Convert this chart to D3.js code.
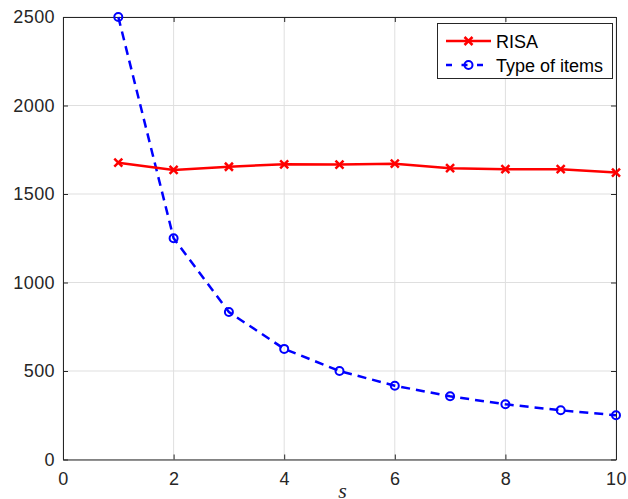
<!DOCTYPE html>
<html><head><meta charset="utf-8">
<script src="https://cdn.jsdelivr.net/npm/d3@7"></script>
<style>body{margin:0;background:#fff;}svg{display:block;font-family:"Liberation Sans",Arial,sans-serif;}</style>
</head><body>
<script>
const sValues = [1,2,3,4,5,6,7,8,9,10];
const risa = [1677,1636,1654,1668,1666,1671,1646,1640,1640,1621];
const typeOfItems = [2500,1250,833,625,500,417,357,312,278,250];
const xTicks = [0,2,4,6,8,10];
const yTicks = [0,500,1000,1500,2000,2500];
const seriesNames = ["RISA","Type of items"];

const W=628,H=499;
const L=63,R=616,T=17,B=459.5;
const svg=d3.select("body").append("svg").attr("width",W).attr("height",H);
const x=d3.scaleLinear().domain([0,10]).range([L,R]);
const y=d3.scaleLinear().domain([0,2500]).range([B,T]);

// grid
svg.append("g").selectAll("line.gx").data(xTicks).join("line")
 .attr("x1",d=>x(d)).attr("x2",d=>x(d)).attr("y1",T).attr("y2",B)
 .attr("stroke","#dfdfdf").attr("stroke-width",1);
svg.append("g").selectAll("line.gy").data(yTicks).join("line")
 .attr("x1",L).attr("x2",R).attr("y1",d=>y(d)).attr("y2",d=>y(d))
 .attr("stroke","#dfdfdf").attr("stroke-width",1);

// axes
const fmt=d3.format("d");
const ax=svg.append("g").attr("transform",`translate(0,${B})`).call(d3.axisBottom(x).tickValues(xTicks).tickFormat(fmt).tickSizeInner(-5).tickSizeOuter(0).tickPadding(13));
const ay=svg.append("g").attr("transform",`translate(${L},0)`).call(d3.axisLeft(y).tickValues(yTicks).tickFormat(fmt).tickSizeInner(-5).tickSizeOuter(0).tickPadding(8));
const axT=svg.append("g").attr("transform",`translate(0,${T})`).call(d3.axisTop(x).tickValues(xTicks).tickSizeInner(-5).tickSizeOuter(0).tickFormat(""));
const ayR=svg.append("g").attr("transform",`translate(${R},0)`).call(d3.axisRight(y).tickValues(yTicks).tickSizeInner(-5).tickSizeOuter(0).tickFormat(""));
[ax,ay,axT,ayR].forEach(g=>{
  g.select(".domain").attr("stroke","#262626").attr("stroke-width",1);
  g.selectAll(".tick line").attr("stroke","#262626");
  g.selectAll(".tick text").attr("fill","#262626").style("font-size","18px").style("letter-spacing","0.4px").style("font-family","'Liberation Sans',Arial,sans-serif");
});

// lines
const line=d3.line().x((d,i)=>x(sValues[i])).y(d=>y(d));
svg.append("path").datum(typeOfItems).attr("d",line).attr("fill","none")
 .attr("stroke","#0000ff").attr("stroke-width",2.5).attr("stroke-dasharray","9,6");
svg.append("path").datum(risa).attr("d",line).attr("fill","none")
 .attr("stroke","#ff0000").attr("stroke-width",2.5);

svg.append("g").selectAll("circle").data(typeOfItems).join("circle")
 .attr("cx",(d,i)=>x(sValues[i])).attr("cy",d=>y(d)).attr("r",4)
 .attr("fill","none").attr("stroke","#0000ff").attr("stroke-width",2);
const xs=4;
const mk=svg.append("g").selectAll("g").data(risa).join("g")
 .attr("transform",(d,i)=>`translate(${x(sValues[i])},${y(d)})`);
mk.append("path").attr("d",`M${-xs},${-xs}L${xs},${xs}M${-xs},${xs}L${xs},${-xs}`)
 .attr("stroke","#ff0000").attr("stroke-width",2.5);

// legend
const lg=svg.append("g");
lg.append("rect").attr("x",437.5).attr("y",23.5).attr("width",175).attr("height",55)
 .attr("fill","#fff").attr("stroke","#262626").attr("stroke-width",1);
const ly=[41,65];
lg.append("line").attr("x1",446).attr("x2",491).attr("y1",ly[0]).attr("y2",ly[0]).attr("stroke","#ff0000").attr("stroke-width",2.5);
lg.append("path").attr("d",`M${468.5-xs},${ly[0]-xs}L${468.5+xs},${ly[0]+xs}M${468.5-xs},${ly[0]+xs}L${468.5+xs},${ly[0]-xs}`).attr("stroke","#ff0000").attr("stroke-width",2.5);
lg.append("line").attr("x1",446).attr("x2",491).attr("y1",ly[1]).attr("y2",ly[1]).attr("stroke","#0000ff").attr("stroke-width",2.5).attr("stroke-dasharray","6,9.5");
lg.append("circle").attr("cx",468.5).attr("cy",ly[1]).attr("r",4).attr("fill","none").attr("stroke","#0000ff").attr("stroke-width",2);
lg.selectAll("text").data(seriesNames).join("text")
 .attr("x",496).attr("y",(d,i)=>ly[i]+6.5).text(d=>d)
 .attr("fill","#000").style("font-size","18px");

// x label
svg.append("text").attr("x",(L+R)/2+3).attr("y",498).attr("text-anchor","middle")
 .style("font-family","'Liberation Serif','Times New Roman',serif").style("font-style","italic").style("font-size","22px").attr("fill","#262626").text("s");
</script>
</body></html>
